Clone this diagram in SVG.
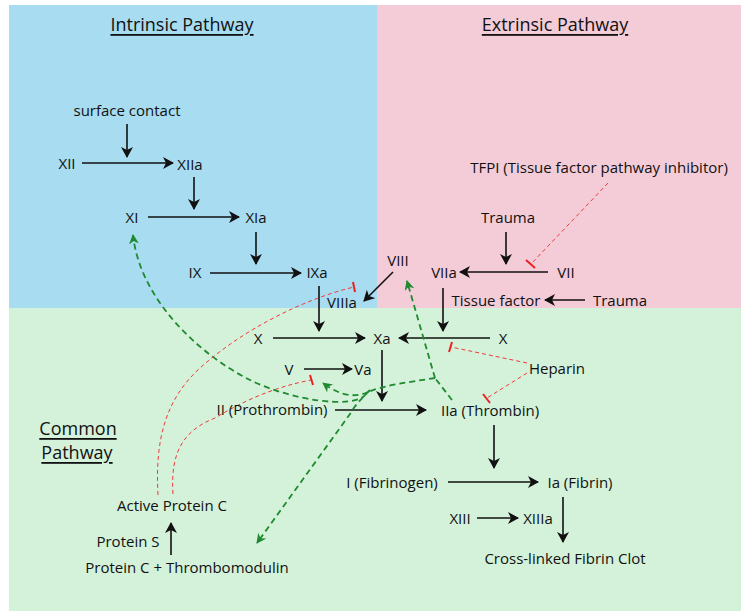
<svg xmlns="http://www.w3.org/2000/svg" width="741" height="611" viewBox="0 0 741 611">
<defs>
<style>
text{font-family:"Open Sans","Noto Sans","DejaVu Sans",sans-serif;font-size:15px;fill:#111;text-anchor:middle;dominant-baseline:central}
.hd{font-size:18px;text-decoration:underline}
.a{stroke:#111;stroke-width:1.6;fill:none;marker-end:url(#ah)}
.g{stroke:#1f8a2f;stroke-width:1.8;fill:none;stroke-dasharray:6 4}
.ga{marker-end:url(#gh)}
.r{stroke:#ee3b3b;stroke-width:1;fill:none;stroke-dasharray:4 3}
.tb{stroke:#ee2020;stroke-width:2}
</style>
<marker id="ah" markerUnits="userSpaceOnUse" markerWidth="14" markerHeight="14" refX="10" refY="6" orient="auto">
<path d="M0,0 L11,6 L0,12 L3,6 z" fill="#111"/>
</marker>
<marker id="gh" markerUnits="userSpaceOnUse" markerWidth="14" markerHeight="14" refX="9" refY="5" orient="auto">
<path d="M0,0 L10,5 L0,10 L3,5 z" fill="#1f8a2f"/>
</marker>
</defs>
<rect x="0" y="0" width="741" height="611" fill="#ffffff"/>
<rect x="9" y="5" width="368" height="303" fill="#a7dcf1"/>
<rect x="377" y="5" width="364" height="303" fill="#f3ccd8"/>
<rect x="9" y="308" width="732" height="303" fill="#d4f1da"/>

<g id="headers">
<text class="hd" x="182" y="24">Intrinsic Pathway</text>
<text class="hd" x="555" y="24">Extrinsic Pathway</text>
<text class="hd" x="78" y="428">Common </text>
<text class="hd" x="77" y="452">Pathway</text>
</g>

<g id="connectors">
<line class="a" x1="127" y1="124" x2="127" y2="157"/>
<line class="a" x1="82" y1="163" x2="173" y2="163"/>
<line class="a" x1="194" y1="177" x2="194" y2="209"/>
<line class="a" x1="148" y1="217" x2="239" y2="217"/>
<line class="a" x1="256" y1="232" x2="256" y2="264"/>
<line class="a" x1="210" y1="273" x2="301" y2="273"/>
<line class="a" x1="319" y1="286" x2="319" y2="331"/>
<line class="a" x1="393" y1="272" x2="364" y2="301"/>
<line class="a" x1="273" y1="338" x2="365" y2="338"/>
<line class="a" x1="506" y1="232" x2="506" y2="264"/>
<line class="a" x1="548" y1="272" x2="460" y2="272"/>
<line class="a" x1="585" y1="300" x2="545" y2="300"/>
<line class="a" x1="443" y1="288" x2="443" y2="331"/>
<line class="a" x1="490" y1="338" x2="399" y2="338"/>
<line class="a" x1="382" y1="350" x2="382" y2="401"/>
<line class="a" x1="304" y1="369" x2="352" y2="369"/>
<line class="a" x1="335" y1="410" x2="426" y2="410"/>
<line class="a" x1="494" y1="425" x2="494" y2="468"/>
<line class="a" x1="448" y1="482" x2="538" y2="482"/>
<line class="a" x1="477" y1="518" x2="518" y2="518"/>
<line class="a" x1="563" y1="497" x2="563" y2="542"/>
<line class="a" x1="171" y1="555" x2="171" y2="523"/>

<path class="g" d="M452,400 L435,378"/>
<path class="g ga" d="M435,378 L407,281"/>
<path class="g" d="M435,378 C410,382 385,385 368,392"/>
<path class="g ga" d="M366,394 C355,410 290,400 250,380 C200,355 140,300 133,235"/>
<path class="g ga" d="M368,392 C355,398 340,396 323,383"/>
<path class="g ga" d="M370,390 C362,398 355,405 350,414 L257,543"/>

<path class="r" d="M608,183 L531,264"/>
<line class="tb" x1="526" y1="260" x2="535" y2="268"/>
<path class="r" d="M527,363 L451,347"/>
<line class="tb" x1="452" y1="342" x2="449" y2="352"/>
<path class="r" d="M527,373 L487,398"/>
<line class="tb" x1="483" y1="394" x2="490" y2="403"/>
<path class="r" d="M158,495 C155,440 165,400 200,368 C240,332 300,300 354,287"/>
<line class="tb" x1="353" y1="282" x2="355" y2="292"/>
<path class="r" d="M173,494 C170,450 185,430 215,418 C245,400 275,387 311,380"/>
<line class="tb" x1="310" y1="375" x2="313" y2="385"/>
</g>

<g id="n-surface"><text x="127" y="110">surface contact</text></g>
<g id="n-XII"><text x="67" y="163">XII</text></g>
<g id="n-XIIa"><text x="190" y="164">XIIa</text></g>
<g id="n-XI"><text x="132" y="217">XI</text></g>
<g id="n-XIa"><text x="256" y="217">XIa</text></g>
<g id="n-IX"><text x="195" y="272">IX</text></g>
<g id="n-IXa"><text x="317" y="272">IXa</text></g>
<g id="n-VIII"><text x="398" y="260">VIII</text></g>
<g id="n-VIIIa"><text x="342" y="302">VIIIa</text></g>
<g id="n-X1"><text x="258" y="338">X</text></g>
<g id="n-Xa"><text x="382" y="338">Xa</text></g>
<g id="n-TFPI"><text x="599" y="167">TFPI (Tissue factor pathway inhibitor)</text></g>
<g id="n-Trauma1"><text x="508" y="217">Trauma</text></g>
<g id="n-VIIa"><text x="444" y="272">VIIa</text></g>
<g id="n-VII"><text x="566" y="272">VII</text></g>
<g id="n-TF"><text x="496" y="300">Tissue factor</text></g>
<g id="n-Trauma2"><text x="620" y="300">Trauma</text></g>
<g id="n-X2"><text x="503" y="338">X</text></g>
<g id="n-Heparin"><text x="557" y="368">Heparin</text></g>
<g id="n-V"><text x="289" y="369">V</text></g>
<g id="n-Va"><text x="363" y="369">Va</text></g>
<g id="n-II"><text x="272" y="409">II (Prothrombin)</text></g>
<g id="n-IIa"><text x="490" y="410">IIa (Thrombin)</text></g>
<g id="n-I"><text x="392" y="482">I (Fibrinogen)</text></g>
<g id="n-Ia"><text x="580" y="482">Ia (Fibrin)</text></g>
<g id="n-XIII"><text x="460" y="518">XIII</text></g>
<g id="n-XIIIa"><text x="538" y="518">XIIIa</text></g>
<g id="n-Clot"><text x="565" y="558">Cross-linked Fibrin Clot</text></g>
<g id="n-APC"><text x="172" y="505">Active Protein C</text></g>
<g id="n-ProtS"><text x="128" y="541">Protein S</text></g>
<g id="n-PCT"><text x="187" y="567">Protein C + Thrombomodulin</text></g>
</svg>
